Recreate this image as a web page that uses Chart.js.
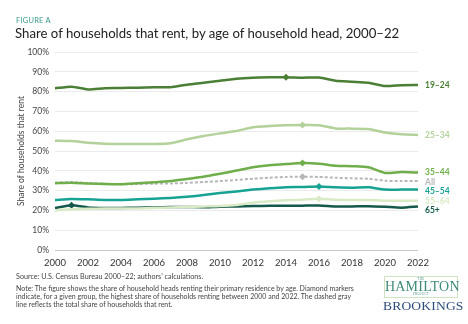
<!DOCTYPE html>
<html>
<head>
<meta charset="utf-8">
<script src="https://cdn.jsdelivr.net/npm/chart.js@4.4.0/dist/chart.umd.min.js"></script>
<style>
  html, body { margin: 0; padding: 0; background: #fff; }
  body { width: 468px; height: 324px; position: relative; overflow: hidden; font-family: Lato, "Open Sans", sans-serif; }
  #wrap { position: absolute; left: 0; top: 0; width: 468px; height: 324px; }
  .fig { position: absolute; left: 16px; top: 16px; font-size: 7.5px; color: #3a9b8f; letter-spacing: 0.2px; }
  .title { position: absolute; left: 15px; top: 25px; font-size: 13.2px; color: #222; white-space: nowrap; }
  .source { position: absolute; left: 16px; top: 272px; font-size: 7.2px; color: #444; white-space: nowrap; }
  .note { position: absolute; left: 16px; top: 284px; font-size: 7px; line-height: 8px; color: #444; white-space: nowrap; }
  .ham { position: absolute; left: 384px; top: 276px; width: 72px; height: 20px; border: 1px solid #cfe3c4; text-align: center; font-family: "Liberation Serif", "DejaVu Serif", serif; color: #3f8a78; }
  .ham .big { position: absolute; left: 0; right: 0; top: 3px; font-size: 14px; line-height: 13px; letter-spacing: 0.2px; }
  .ham .small { position: absolute; left: 0; right: 0; font-size: 3px; line-height: 3px; letter-spacing: 0.5px; }
  .brook { position: absolute; left: 383px; top: 298px; font-family: "Liberation Serif", "DejaVu Serif", serif; font-size: 13.5px; color: #2d4d7c; letter-spacing: 0.2px; }
</style>
</head>
<body>
<div id="wrap"><canvas id="rentChart" width="468" height="324"></canvas></div>
<div class="fig">FIGURE A</div>
<div class="title">Share of households that rent, by age of household head, 2000–22</div>
<div class="source">Source: U.S. Census Bureau 2000–22; authors’ calculations.</div>
<div class="note">Note: The figure shows the share of household heads renting their primary residence by age. Diamond markers<br>indicate, for a given group, the highest share of households renting between 2000 and 2022. The dashed gray<br>line reflects the total share of households that rent.</div>
<div class="ham"><div class="small" style="top:1px">THE</div><div class="big">HAMILTON</div><div class="small" style="top:16px">PROJECT</div></div>
<div class="brook">BROOKINGS</div>
<script>
var years = ['2000','2001','2002','2003','2004','2005','2006','2007','2008','2009','2010','2011',
             '2012','2013','2014','2015','2016','2017','2018','2019','2020','2021','2022'];
var yTicks = [0, 10, 20, 30, 40, 50, 60, 70, 80, 90, 100];

var age19_24 = [81.7, 82.5, 81.1, 81.7, 81.8, 82.0, 82.2, 82.2, 83.5, 84.5, 85.5, 86.5, 87.0, 87.2, 87.3, 87.0, 87.1, 85.5, 85.0, 84.5, 82.8, 83.2, 83.3];
var age25_34 = [55.2, 55.0, 54.2, 53.7, 53.5, 53.5, 53.5, 53.9, 55.9, 57.6, 58.9, 60.1, 62.0, 62.6, 63.0, 63.1, 63.0, 61.4, 61.3, 61.1, 59.3, 58.4, 58.1];
var age35_44 = [33.7, 34.0, 33.6, 33.3, 33.2, 33.7, 34.2, 34.8, 35.9, 37.0, 38.5, 40.1, 41.8, 42.8, 43.4, 43.9, 43.6, 42.6, 42.3, 41.8, 38.9, 39.4, 39.1];
var allHouseholds = [34.0, 34.3, 33.8, 33.5, 33.2, 33.3, 33.5, 33.6, 33.9, 34.3, 34.8, 35.4, 36.0, 36.5, 36.9, 37.0, 36.9, 36.5, 36.2, 36.0, 35.0, 34.8, 34.8];
var age45_54 = [25.3, 25.8, 25.6, 25.3, 25.3, 25.6, 25.9, 26.3, 26.9, 27.8, 28.8, 29.6, 30.5, 31.2, 31.7, 31.8, 32.1, 31.7, 31.5, 31.7, 30.5, 30.5, 30.5];
var age55_64 = [20.0, 20.6, 20.8, 20.9, 21.0, 21.0, 21.2, 21.5, 21.8, 22.0, 22.2, 22.7, 23.9, 24.6, 25.1, 25.4, 25.9, 25.4, 25.3, 25.3, 24.9, 24.9, 24.9];
var age65plus = [21.2, 22.6, 21.5, 21.2, 21.2, 21.4, 21.5, 21.7, 21.7, 21.6, 21.9, 22.0, 22.2, 22.3, 22.3, 22.4, 22.5, 22.0, 22.0, 22.1, 21.8, 21.4, 22.0];

var groupLabels = ['19–24', '25–34', '35–44', 'All', '45–54', '55–64', '65+'];
var groupData = [age19_24, age25_34, age35_44, allHouseholds, age45_54, age55_64, age65plus];
var groupColors = ['#4b7f35', '#b3d19a', '#6fae4a', '#b7b7ba', '#17a394', '#d9eac6', '#14594b'];

function peakRadius(arr) {
  var peak = arr.indexOf(Math.max.apply(null, arr));
  return function (ctx) { return ctx.dataIndex === peak ? 3.5 : 0; };
}

var datasets = groupData.map(function (arr, i) {
  return {
    label: groupLabels[i],
    data: arr,
    borderColor: groupColors[i],
    backgroundColor: groupColors[i],
    borderWidth: groupLabels[i] === 'All' ? 2 : 2.5,
    borderDash: groupLabels[i] === 'All' ? [3, 2] : [],
    pointStyle: 'rectRot',
    pointRadius: peakRadius(arr),
    pointHoverRadius: 0,
    pointBorderWidth: 0,
    tension: 0.2,
    fill: false
  };
});

// labels at the end of each line, nudged apart so they don't overlap
var endLabels = {
  id: 'endLabels',
  afterDatasetsDraw: function (chart) {
    var c = chart.ctx;
    var items = chart.data.datasets.map(function (ds, i) {
      var meta = chart.getDatasetMeta(i);
      var pt = meta.data[meta.data.length - 1];
      return { text: ds.label, color: ds.borderColor, y: pt.y };
    });
    items.sort(function (a, b) { return a.y - b.y; });
    for (var k = 1; k < items.length; k++) {
      if (items[k].y < items[k - 1].y + 9.5) items[k].y = items[k - 1].y + 9.5;
    }
    c.save();
    c.font = 'bold 8.5px Lato';
    c.textBaseline = 'middle';
    c.textAlign = 'left';
    items.forEach(function (it) {
      c.fillStyle = it.color;
      c.fillText(it.text, chart.chartArea.right + 7, it.y);
    });
    c.restore();
  }
};

var ctx = document.getElementById('rentChart').getContext('2d');
var rentChart = new Chart(ctx, {
  type: 'line',
  data: { labels: years, datasets: datasets },
  plugins: [endLabels],
  options: {
    responsive: false,
    animation: false,
    layout: { padding: { left: 0, top: 52, right: 50, bottom: 52 } },
    plugins: {
      legend: { display: false },
      tooltip: { enabled: false }
    },
    scales: {
      x: {
        afterFit: function (s) { s.height = 22; },
        grid: { display: false, drawTicks: false },
        border: { display: false },
        ticks: {
          autoSkip: false,
          maxRotation: 0,
          padding: 7,
          color: '#333',
          font: { family: 'Lato', size: 9.5 },
          callback: function (v, i) { return i % 2 === 0 ? years[i] : ''; }
        }
      },
      y: {
        min: 0,
        max: 100,
        afterFit: function (s) { s.width = 55; },
        afterBuildTicks: function (s) { s.ticks = yTicks.map(function (v) { return { value: v }; }); },
        border: { display: false },
        grid: {
          drawTicks: false,
          color: function (c) { return c.tick.value === 0 ? '#c8c8c8' : '#ebebeb'; },
          lineWidth: 1
        },
        ticks: {
          padding: 6,
          color: '#444',
          font: { family: 'Lato', size: 8.5 },
          callback: function (v) { return v + '%'; }
        },
        title: {
          display: true,
          text: 'Share of households that rent',
          color: '#444',
          font: { family: 'Lato', size: 8.5 },
          padding: { top: 16 }
        }
      }
    }
  }
});
</script>
</body>
</html>
